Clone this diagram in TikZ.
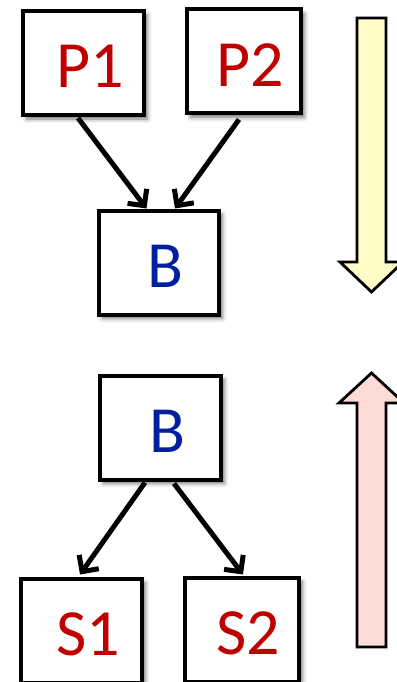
\documentclass[tikz,border=0pt]{standalone}
\usepackage{fontspec}
\setmainfont{Carlito}
\usepackage{xcolor}
\usepackage{tikz}
\usetikzlibrary{arrows.meta}
\usetikzlibrary{shadows.blur}
\definecolor{procred}{RGB}{192,0,0}
\definecolor{bufblue}{RGB}{0,32,160}
\definecolor{downfill}{RGB}{255,252,200}
\definecolor{upfill}{RGB}{255,219,214}
\tikzset{
every picture/.style={x=1pt, y=-1pt},
%%%%%%%%%%  Node styles
box/.style={draw, line width=4pt, fill=white, minimum width=#1,
            minimum height=104pt, inner sep=0pt,
            blur shadow={shadow xshift=4pt, shadow yshift=-4pt,
                         shadow blur radius=4pt, shadow opacity=55},
            font=\fontsize{66}{72}\selectfont, text height=50pt, text depth=0pt,
            execute at begin node={\hspace*{14pt}}},
box/.default=121pt,
%%%% line styles
flow/.style={line width=5pt, -{Straight Barb[length=12pt,width=24pt]}},
bigarrow/.style={draw, line width=2.8pt, line join=miter}
}

\begin{document}
\begin{tikzpicture}
\useasboundingbox (0,0) rectangle (396,682);
%%producers into the buffer
\node[box] (P1) at (83,63) {\color{procred}P1};
\node[box=114pt] (P2) at (243.5,61.5) {\color{procred}P2};
\node[box=120pt] (Btop) at (158.5,262.5) {\color{bufblue}B};
\draw[flow] ([xshift=-5pt,yshift=-1pt]P1.south) -- ([xshift=-12pt]Btop.north);
\draw[flow] ([xshift=-4.5pt,yshift=-4pt]P2.south) -- ([xshift=16.5pt]Btop.north);
%%buffer out to the sinks
\node[box] (Bbot) at (160,427.5) {\color{bufblue}B};
\node[box] (S1) at (81,630.5) {\color{procred}S1};
\node[box=114pt] (S2) at (241.5,629.5) {\color{procred}S2};
\draw[flow] ([xshift=-15pt,yshift=-1pt]Bbot.south) -- ([xshift=-1pt,yshift=2pt]S1.north);
\draw[flow] ([xshift=14pt,yshift=-2pt]Bbot.south) -- ([xshift=1.5pt,yshift=1pt]S2.north);
%%down arrow
\draw[bigarrow, fill=downfill] (357,18) -- (386,18) -- (386,262) -- (403,262)
	-- (371.5,292) -- (340,262) -- (357,262) -- cycle;
%%up arrow
\draw[bigarrow, fill=upfill] (357,647) -- (386,647) -- (386,403) -- (404,403)
	-- (371.5,373) -- (339,403) -- (357,403) -- cycle;
\end{tikzpicture}
\end{document}
